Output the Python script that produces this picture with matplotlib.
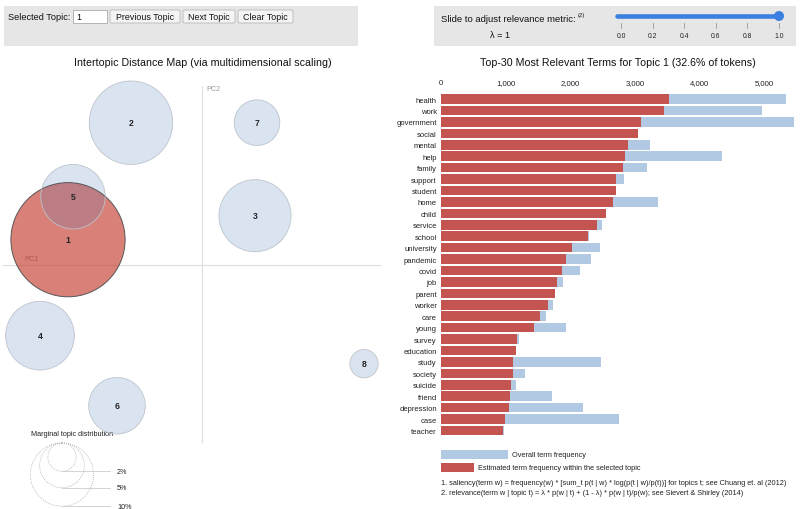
import numpy as np
import matplotlib
matplotlib.use("Agg")
import matplotlib.pyplot as plt
from matplotlib.patches import Circle, Rectangle, FancyBboxPatch

plt.rcParams['font.family'] = ['Liberation Sans', 'DejaVu Sans']

# ---------------- data ----------------
topic_ids = [1, 2, 3, 4, 5, 6, 7, 8]
topic_pct = [32.6, 17.4, 13.0, 11.8, 10.4, 8.0, 5.2, 2.0]
pc1 = [-0.134, -0.071, 0.053, -0.162, -0.129, -0.085, 0.055, 0.162]
pc2 = [0.025, 0.142, 0.049, -0.071, 0.068, -0.141, 0.142, -0.099]
selected_topic = 1

terms = ["health", "work", "government", "social", "mental", "help", "family",
         "support", "student", "home", "child", "service", "school", "university",
         "pandemic", "covid", "job", "parent", "worker", "care", "young", "survey",
         "education", "study", "society", "suicide", "friend", "depression", "case",
         "teacher"]
topic_freq = [3526, 3454, 3088, 3041, 2892, 2840, 2820, 2706, 2701, 2660, 2546,
              2407, 2278, 2021, 1928, 1871, 1794, 1763, 1660, 1526, 1443, 1180,
              1160, 1119, 1108, 1088, 1072, 1052, 985, 964]
overall_freq = [5330, 4969, 5459, 3045, 3237, 4340, 3180, 2830, 2705, 3361, 2550,
                2485, 2282, 2454, 2320, 2155, 1887, 1767, 1737, 1624, 1928, 1201,
                1164, 2474, 1299, 1155, 1716, 2191, 2747, 968]
freq_ticks = [0, 1000, 2000, 3000, 4000, 5000]
legend_pct = [2, 5, 10]
lambda_ticks = [0.0, 0.2, 0.4, 0.6, 0.8, 1.0]
lambda_value = 1.0

# ---------------- figure ----------------
W, H = 800, 510
fig = plt.figure(figsize=(W / 100, H / 100), dpi=100)

def fr(x0, y0, x1, y1):
    """pixel box (top-left origin) -> figure fraction rect"""
    return [x0 / W, 1 - y1 / H, (x1 - x0) / W, (y1 - y0) / H]

ui = fig.add_axes([0, 0, 1, 1])
ui.set_xlim(0, W)
ui.set_ylim(H, 0)
ui.axis('off')

grey_box = '#e6e6e6'
# left control panel
ui.add_patch(Rectangle((4, 7), 354, 40, facecolor=grey_box, edgecolor='none'))
ui.text(8, 17, "Selected Topic:", fontsize=6.6, va='center', ha='left', color='#111')
ui.add_patch(Rectangle((73, 11), 34, 13, facecolor='white', edgecolor='#aaaaaa', lw=0.6))
ui.text(76, 17.5, str(selected_topic), fontsize=6.5, va='center', ha='left', color='#111')
for x0, x1, lab in [(110, 180, "Previous Topic"), (183, 235, "Next Topic"),
                    (238, 293, "Clear Topic")]:
    ui.add_patch(FancyBboxPatch((x0, 11), x1 - x0, 13,
                                boxstyle="round,pad=0,rounding_size=1.5",
                                facecolor='#f4f4f4', edgecolor='#b8b8b8', lw=0.6))
    ui.text((x0 + x1) / 2, 17.5, lab, fontsize=6.4, va='center', ha='center', color='#111')

# right control panel
ui.add_patch(Rectangle((434, 7), 362, 40, facecolor=grey_box, edgecolor='none'))
ui.text(441, 19, "Slide to adjust relevance metric:", fontsize=6.8, va='center',
        ha='left', color='#111')
ui.text(578, 15.5, "(2)", fontsize=4.2, va='center', ha='left', color='#111')
ui.text(500, 36, "\u03bb = %g" % lambda_value, fontsize=6.6, va='center', ha='center',
        color='#111')
sx0, sx1 = 621, 779
ui.plot([617, sx0 + lambda_value * (sx1 - sx0)], [17, 17], color='#3a80e0',
        lw=3.3, solid_capstyle='round')
ui.add_patch(Circle((sx0 + lambda_value * (sx1 - sx0), 17), 5, facecolor='#3a80e0',
                    edgecolor='none'))
for v in lambda_ticks:
    xx = sx0 + v * (sx1 - sx0)
    ui.plot([xx, xx], [24, 29], color='#999999', lw=0.6)
    ui.text(xx, 36, "%.1f" % v, fontsize=4.9, ha='center', va='center', color='#222')

# titles
ui.text(203, 63, "Intertopic Distance Map (via multidimensional scaling)",
        fontsize=7.65, ha='center', va='center', color='#111')
ui.text(618, 63, "Top-30 Most Relevant Terms for Topic %d (%.1f%% of tokens)"
        % (selected_topic, topic_pct[selected_topic - 1]),
        fontsize=7.65, ha='center', va='center', color='#111')

# marginal topic distribution legend
ui.text(31, 435, "Marginal topic distribution", fontsize=5.25, ha='left',
        va='center', color='#222')
lcx, ltop = 62, 444
for p in legend_pct:
    r = 10 * np.sqrt(p)
    ui.add_patch(Circle((lcx, ltop + r), r, facecolor='none', edgecolor='#aaaaaa',
                        lw=0.6, linestyle=(0, (1, 1.5))))
    ui.plot([lcx, 110], [ltop + 2 * r, ltop + 2 * r], color='#cccccc', lw=0.6)
    ui.text(117, ltop + 2 * r, "%d%%" % p, fontsize=5.2, ha='left', va='center',
            color='#222')

# ---------------- MDS panel ----------------
mds = fig.add_axes(fr(0, 70, 400, 510))
mds.set_xlim(-0.202, 0.198)
mds.set_ylim(-0.2443, 0.1957)
mds.axis('off')
mds.plot([-0.199, 0.178], [0, 0], color='#dddddd', lw=0.8, zorder=1)
mds.plot([0, 0], [0.179, -0.177], color='#dddddd', lw=0.8, zorder=1)
mds.text(-0.178, 0.006, "PC1", fontsize=5.2, color='#999999', ha='left', va='center', zorder=1)
mds.text(0.004, 0.176, "PC2", fontsize=5.2, color='#999999', ha='left', va='center', zorder=1)

for t, p, x, y in zip(topic_ids, topic_pct, pc1, pc2):
    r = 10 * np.sqrt(p) / 1000
    if t == selected_topic:
        mds.add_patch(Circle((x, y), r, facecolor='#c12c1e', alpha=0.6,
                             edgecolor='none', zorder=2))
        mds.add_patch(Circle((x, y), r, facecolor='none', edgecolor='#555555',
                             lw=0.7, zorder=3))
    else:
        mds.add_patch(Circle((x, y), r, facecolor='#4a7ab8', alpha=0.2,
                             edgecolor='none', zorder=2))
        mds.add_patch(Circle((x, y), r, facecolor='none', edgecolor='#bcc4cc',
                             lw=0.6, zorder=3))
for t, x, y in zip(topic_ids, pc1, pc2):
    mds.text(x, y, str(t), fontsize=6.2, fontweight='bold', ha='center', va='center',
             color='#222222', zorder=5)

# ---------------- bar panel ----------------
bar = fig.add_axes(fr(441, 94.3, 800, 437.2))
ypos = np.arange(len(terms))
bar.barh(ypos, overall_freq, height=0.84, color='#b1c9e3', edgecolor='none')
bar.barh(ypos, topic_freq, height=0.84, color='#c3544f', edgecolor='none')
bar.set_xlim(0, 359 / 0.0647)
bar.set_ylim(len(terms) - 0.5, -0.5)
bar.set_yticks(ypos)
bar.set_yticklabels(terms, fontsize=5.5, color='#222')
bar.xaxis.tick_top()
bar.set_xticks(freq_ticks)
bar.set_xticklabels(["{:,}".format(v) for v in freq_ticks], fontsize=5.6, color='#222')
bar.tick_params(axis='x', length=0, pad=5.5)
bar.tick_params(axis='y', length=0, pad=3)
for s in bar.spines.values():
    s.set_visible(False)
bar.patch.set_alpha(0)

# bar legend and footnotes
ui.add_patch(Rectangle((441, 451), 67, 9, facecolor='#b1c9e3', edgecolor='none'))
ui.text(512, 455.5, "Overall term frequency", fontsize=5.3, ha='left', va='center',
        color='#222')
ui.add_patch(Rectangle((441, 464), 33, 9, facecolor='#c3544f', edgecolor='none'))
ui.text(478, 468.5, "Estimated term frequency within the selected topic", fontsize=5.3,
        ha='left', va='center', color='#222')
ui.text(441, 484, "1. saliency(term w) = frequency(w) * [sum_t p(t | w) * log(p(t | w)/p(t))] "
        "for topics t; see Chuang et. al (2012)", fontsize=5.3, ha='left', va='center',
        color='#222')
ui.text(441, 493.5, "2. relevance(term w | topic t) = \u03bb * p(w | t) + (1 - \u03bb) * "
        "p(w | t)/p(w); see Sievert & Shirley (2014)", fontsize=5.3, ha='left',
        va='center', color='#222')

fig.savefig("out.png", dpi=100)
